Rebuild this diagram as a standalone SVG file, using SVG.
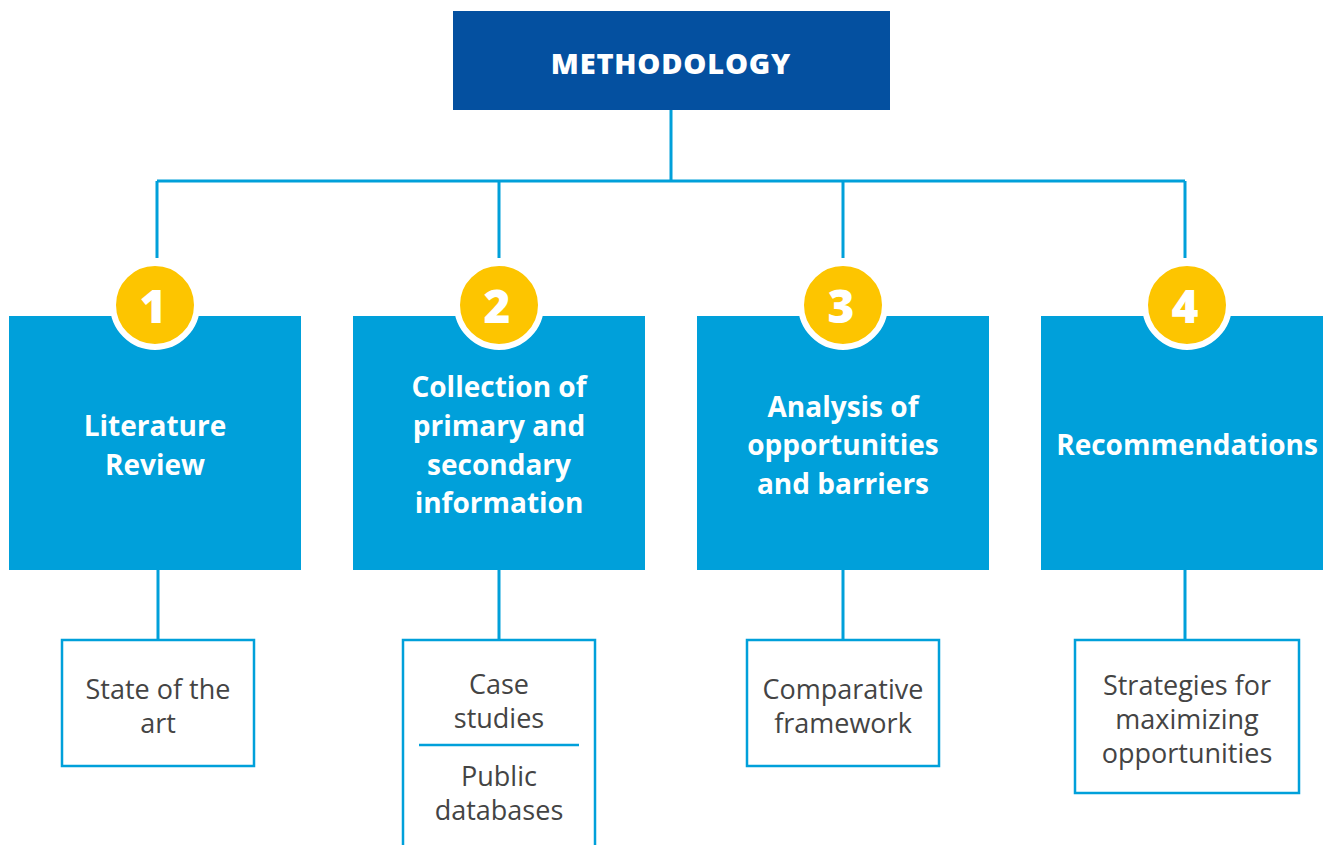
<svg xmlns="http://www.w3.org/2000/svg" width="1323" height="845" viewBox="0 0 1323 845">
<style>
.con{stroke:#00a0da;stroke-width:3;fill:none}
.main{fill:#0450a0}
.step{fill:#00a0da}
.badge{fill:#fdc500;stroke:#ffffff;stroke-width:6}
.num{font-family:"Open Sans","Liberation Sans",sans-serif;font-weight:800;font-size:46px;fill:#ffffff;text-anchor:middle}
.title{font-family:"Open Sans","Liberation Sans",sans-serif;font-weight:800;font-size:29px;fill:#ffffff;text-anchor:middle;letter-spacing:0.8px}
.lbl{font-family:"Open Sans","Liberation Sans",sans-serif;font-weight:700;font-size:28px;fill:#ffffff;text-anchor:middle}
.sub{fill:#ffffff;stroke:#00a0da;stroke-width:2.5}
.stxt{font-family:"Open Sans","Liberation Sans",sans-serif;font-size:27px;fill:#444444;text-anchor:middle}
</style>
<g id="connectors">
<path class="con" d="M671 110V181M157 181H1185M157 181V258M499 181V258M843 181V258M1185 181V258"/>
<path class="con" d="M158 570V640M499 570V640M843 570V640M1185 570V640"/>
</g>
<g id="methodology">
<rect class="main" x="453" y="11" width="437" height="99"/>
<text class="title" x="671" y="74">METHODOLOGY</text>
</g>
<g id="step1">
<rect class="step" x="9" y="316" width="292" height="254"/>
<circle class="badge" cx="155" cy="305" r="42"/>
<text class="num" x="153" y="323">1</text>
<text class="lbl" x="155" y="436">Literature</text>
<text class="lbl" x="155" y="475">Review</text>
</g>
<g id="step2">
<rect class="step" x="353" y="316" width="292" height="254"/>
<circle class="badge" cx="499" cy="305" r="42"/>
<text class="num" x="497" y="323">2</text>
<text class="lbl" x="499" y="397">Collection of</text>
<text class="lbl" x="499" y="436">primary and</text>
<text class="lbl" x="499" y="475">secondary</text>
<text class="lbl" x="499" y="513">information</text>
</g>
<g id="step3">
<rect class="step" x="697" y="316" width="292" height="254"/>
<circle class="badge" cx="843" cy="305" r="42"/>
<text class="num" x="841" y="323">3</text>
<text class="lbl" x="843" y="417">Analysis of</text>
<text class="lbl" x="843" y="455">opportunities</text>
<text class="lbl" x="843" y="494">and barriers</text>
</g>
<g id="step4">
<rect class="step" x="1041" y="316" width="292" height="254"/>
<circle class="badge" cx="1187" cy="305" r="42"/>
<text class="num" x="1185" y="323">4</text>
<text class="lbl" x="1187" y="455">Recommendations</text>
</g>
<g id="sub1">
<rect class="sub" x="62" y="640" width="192" height="126"/>
<text class="stxt" x="158" y="699">State of the</text>
<text class="stxt" x="158" y="733">art</text>
</g>
<g id="sub2">
<rect class="sub" x="403" y="640" width="192" height="220"/>
<text class="stxt" x="499" y="694">Case</text>
<text class="stxt" x="499" y="728">studies</text>
<line x1="419" y1="745" x2="579" y2="745" stroke="#00a0da" stroke-width="2.5"/>
<text class="stxt" x="499" y="786">Public</text>
<text class="stxt" x="499" y="820">databases</text>
</g>
<g id="sub3">
<rect class="sub" x="747" y="640" width="192" height="126"/>
<text class="stxt" x="843" y="699">Comparative</text>
<text class="stxt" x="843" y="733">framework</text>
</g>
<g id="sub4">
<rect class="sub" x="1075" y="640" width="224" height="153"/>
<text class="stxt" x="1187" y="695">Strategies for</text>
<text class="stxt" x="1187" y="729">maximizing</text>
<text class="stxt" x="1187" y="763">opportunities</text>
</g>
</svg>
